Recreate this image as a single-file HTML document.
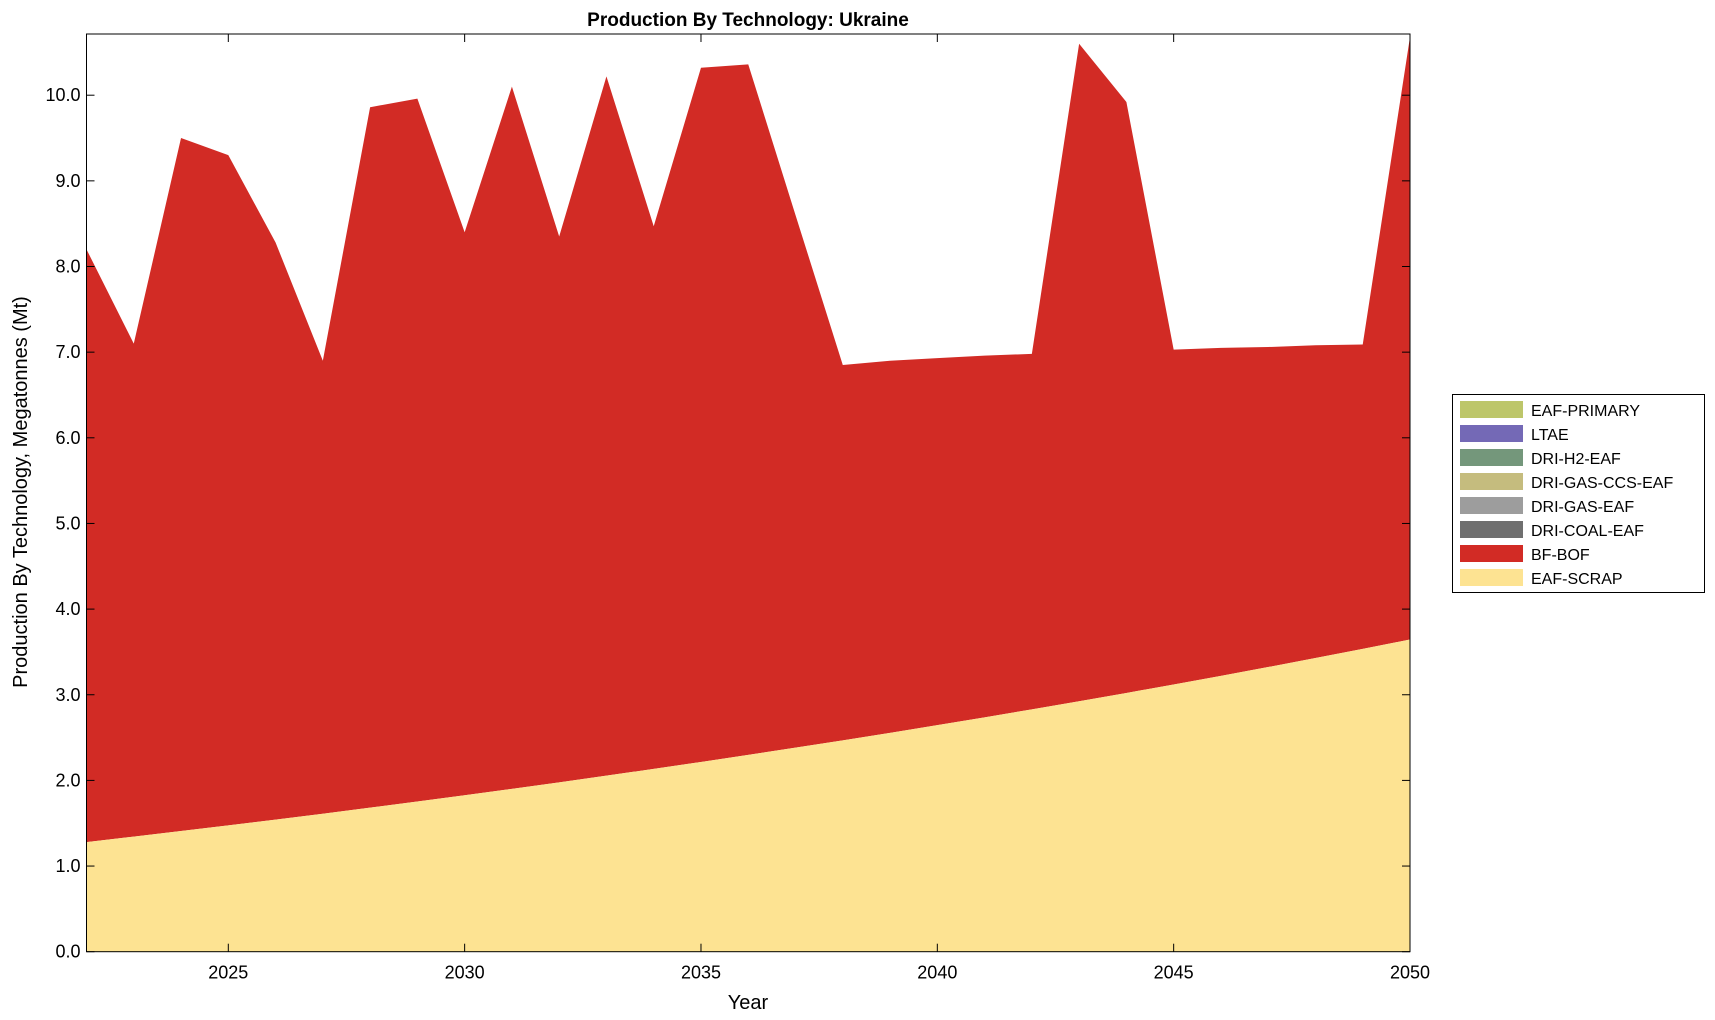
<!DOCTYPE html>
<html><head><meta charset="utf-8"><style>
body{margin:0;background:#fff;}
svg{display:block;font-family:"Liberation Sans",Arial,sans-serif;}
</style></head><body>
<svg id="s" width="1715" height="1020" viewBox="0 0 1715 1020" xmlns="http://www.w3.org/2000/svg">
<rect width="1715" height="1020" fill="#fff"/>
<g id="g"></g>
<text x="748" y="26" text-anchor="middle" font-size="19" font-weight="bold">Production By Technology: Ukraine</text>
<text x="748" y="1009" text-anchor="middle" font-size="20">Year</text>
<text transform="translate(27,492) rotate(-90)" text-anchor="middle" font-size="20">Production By Technology, Megatonnes (Mt)</text>
<g font-size="16">
<rect x="1452.5" y="394.5" width="252" height="198" fill="#fff" stroke="#000" stroke-width="1"/>
<rect x="1460" y="401" width="63" height="17" fill="#bdc66a"/><text x="1531" y="416">EAF-PRIMARY</text>
<rect x="1460" y="425" width="63" height="17" fill="#7469b6"/><text x="1531" y="440">LTAE</text>
<rect x="1460" y="449" width="63" height="17" fill="#74977b"/><text x="1531" y="464">DRI-H2-EAF</text>
<rect x="1460" y="473" width="63" height="17" fill="#c5bc7e"/><text x="1531" y="488">DRI-GAS-CCS-EAF</text>
<rect x="1460" y="497" width="63" height="17" fill="#9d9d9d"/><text x="1531" y="512">DRI-GAS-EAF</text>
<rect x="1460" y="521" width="63" height="17" fill="#6f6f6f"/><text x="1531" y="536">DRI-COAL-EAF</text>
<rect x="1460" y="545" width="63" height="17" fill="#d22b25"/><text x="1531" y="560">BF-BOF</text>
<rect x="1460" y="569" width="63" height="17" fill="#fde392"/><text x="1531" y="584">EAF-SCRAP</text>
</g>
</svg>
<script>
(function(){
var L=86.5,R=1410,T=34,B=951.7,ymax=(B-T)/85.65;
function X(y){return L+(y-2022)*(R-L)/28}
function Y(v){return B-v*85.65}
var tops=[8.2,7.1,9.5,9.3,8.28,6.9,9.86,9.96,8.4,10.1,8.35,10.22,8.47,10.32,10.36,8.6,6.85,6.9,6.93,6.96,6.98,10.6,9.92,7.03,7.05,7.06,7.08,7.09,10.68];
var sc=[],i;for(i=0;i<=28;i++)sc.push(-1.87+3.15*Math.exp(0.02*i));
var g=document.getElementById('g'),h='';
var p1='',p2='';
for(i=0;i<=28;i++)p1+=X(2022+i)+','+Y(Math.min(tops[i],ymax))+' ';
for(i=28;i>=0;i--)p1+=X(2022+i)+','+Y(sc[i])+' ';
for(i=0;i<=28;i++)p2+=X(2022+i)+','+Y(sc[i])+' ';
p2+=R+','+B+' '+L+','+B;
h+='<polygon points="'+p1+'" fill="#d22b25"/>';
h+='<polygon points="'+p2+'" fill="#fde392"/>';
h+='<rect x="'+L+'" y="'+T+'" width="'+(R-L)+'" height="'+(B-T)+'" fill="none" stroke="#000" stroke-width="1"/>';
for(var v=0;v<=10;v++){var y=Y(v);
h+='<line x1="'+L+'" y1="'+y+'" x2="'+(L+8)+'" y2="'+y+'" stroke="#000"/>';
h+='<line x1="'+R+'" y1="'+y+'" x2="'+(R-8)+'" y2="'+y+'" stroke="#000"/>';
h+='<text x="'+(L-6)+'" y="'+(y+6)+'" text-anchor="end" font-size="18">'+v.toFixed(1)+'</text>';}
for(var yr=2025;yr<=2050;yr+=5){var x=X(yr);
h+='<line x1="'+x+'" y1="'+B+'" x2="'+x+'" y2="'+(B-8)+'" stroke="#000"/>';
h+='<line x1="'+x+'" y1="'+T+'" x2="'+x+'" y2="'+(T+8)+'" stroke="#000"/>';
h+='<text x="'+x+'" y="'+(B+27)+'" text-anchor="middle" font-size="18">'+yr+'</text>';}
g.innerHTML=h;
})();
</script>
</body></html>
